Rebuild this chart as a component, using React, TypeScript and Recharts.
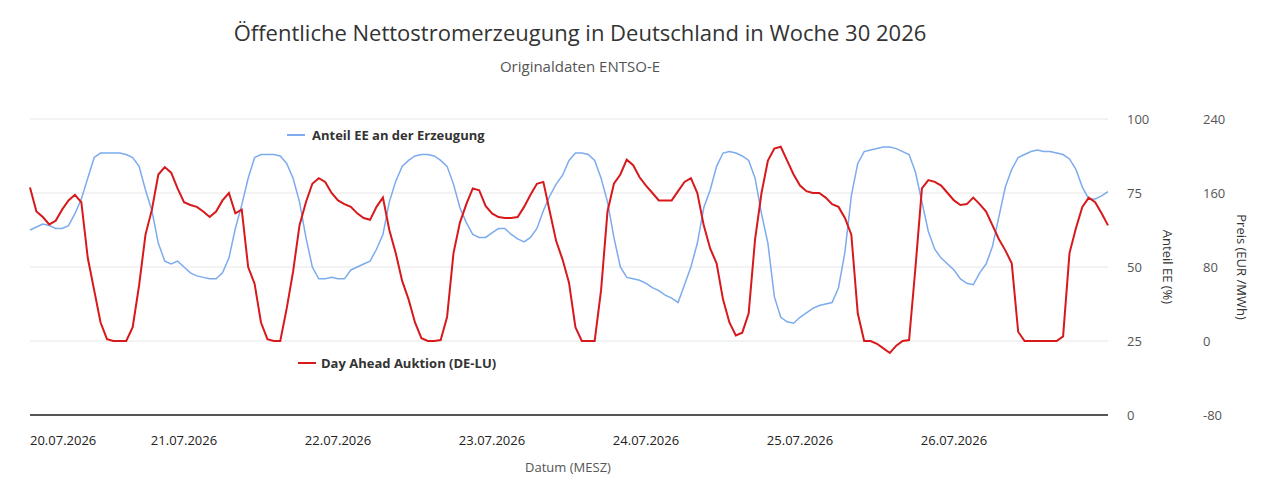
import React from 'react';
import { LineChart, Line, XAxis, YAxis, CartesianGrid } from 'recharts';

// hourly values, 20.07.2026 00:00 .. 27.07.2026 00:00
const anteilEE: number[] = [
  62.5, 63.5, 64.5, 64, 63, 63, 64, 68, 73, 80, 87, 88.5, 88.5, 88.5, 88.5, 88, 87, 84, 76, 69, 58, 52, 51, 52,
  50, 48, 47, 46.5, 46, 46, 48, 53, 63, 71, 80, 87, 88, 88, 88, 87.5, 85, 80, 72, 60, 50, 46, 46, 46.5,
  46, 46, 49, 50, 51, 52, 56, 61, 72, 79, 84, 86, 87.5, 88, 88, 87.5, 86, 84, 78, 70, 65, 61, 60, 60,
  61.5, 63, 63, 61, 59.5, 58.5, 60, 63, 69, 74, 78, 81, 86, 88.5, 88.5, 88, 86, 80, 72, 60, 50, 46.5, 46, 45.5,
  44.5, 43, 42, 40.5, 39.5, 38, 44, 50, 58, 70, 76, 84, 88.5, 89, 88.5, 87.5, 86, 80, 68, 58, 40, 33, 31.5, 31,
  33, 34.5, 36, 37, 37.5, 38, 43, 55, 74, 85, 89, 89.5, 90, 90.5, 90.5, 90, 89, 88, 82, 72, 62, 56, 53, 51,
  49, 46, 44.5, 44, 48, 51, 57, 67, 77, 83, 87, 88, 89, 89.5, 89, 89, 88.5, 88, 86.5, 83, 77, 73, 73, 74,
  75.5,
];

const preis: number[] = [
  166, 140, 134, 126, 130, 142, 152, 158, 150, 90, 55, 20, 2, 0, 0, 0, 15, 60, 115, 142, 180, 188, 182, 165,
  150, 147, 145, 140, 134, 140, 152, 160, 138, 142, 80, 62, 20, 2, 0, 0, 35, 75, 125, 150, 170, 176, 172, 160,
  152, 148, 145, 138, 133, 131, 145, 155, 120, 95, 65, 45, 20, 3, 0, 0, 1, 26, 95, 128, 148, 165, 163, 146,
  138, 134, 133, 133, 134, 145, 158, 170, 172, 140, 108, 88, 63, 15, 0, 0, 0, 55, 140, 170, 180, 196, 190, 177,
  168, 160, 152, 152, 152, 162, 172, 176, 160, 125, 100, 84, 45, 20, 6, 9, 30, 110, 160, 195, 208, 210, 195, 180,
  168, 162, 160, 160, 155, 148, 145, 133, 115, 30, 0, 0, -3, -8, -13, -5, 0, 1, 80, 165, 174, 172, 168, 160,
  152, 147, 148, 155, 148, 140, 125, 110, 98, 84, 10, 0, 0, 0, 0, 0, 0, 5, 95, 122, 145, 155, 150, 138,
  125,
];

const dayLabels = ['20.07.2026', '21.07.2026', '22.07.2026', '23.07.2026', '24.07.2026', '25.07.2026', '26.07.2026'];
const dayTicks = [0, 24, 48, 72, 96, 120, 144];
const eeTicks = [0, 25, 50, 75, 100];
const preisTicks = [-80, 0, 80, 160, 240];

const data = anteilEE.map((ee, i) => ({ h: i, ee, preis: preis[i] }));

const font = '"Open Sans", sans-serif';

const DayTick = (props: any) => {
  const { x, y, payload, index } = props;
  return (
    <text x={x} y={y} dy={22} textAnchor={index === 0 ? 'start' : 'middle'} fill="#222" fontSize={13} fontFamily={font}>
      {dayLabels[dayTicks.indexOf(payload.value)]}
    </text>
  );
};

export default function App() {
  document.body.style.margin = '0';
  return (
    <div style={{ position: 'relative', width: 1279, height: 490, background: '#fff', fontFamily: font }}>
      <div style={{ position: 'absolute', top: 17, width: 1160, textAlign: 'center', fontSize: 22, color: '#333' }}>
        Öffentliche Nettostromerzeugung in Deutschland in Woche 30 2026
      </div>
      <div style={{ position: 'absolute', top: 56, width: 1160, textAlign: 'center', fontSize: 15, color: '#555' }}>
        Originaldaten ENTSO-E
      </div>
      <LineChart width={1279} height={490} data={data} margin={{ top: 119, right: 0, bottom: 45, left: 30 }}>
        <CartesianGrid vertical={false} stroke="#e6e6e6" yAxisId="ee" />
        <XAxis
          dataKey="h"
          type="number"
          domain={[0, 168]}
          ticks={dayTicks}
          tick={<DayTick />}
          tickLine={false}
          axisLine={{ stroke: '#555', strokeWidth: 2 }}
          interval={0}
          height={30}
        />
        <YAxis
          yAxisId="ee"
          orientation="right"
          domain={[0, 100]}
          ticks={eeTicks}
          width={82}
          axisLine={false}
          tickLine={false}
          tickSize={0}
          tickMargin={19}
          tick={{ fill: '#555', fontSize: 13, fontFamily: font }}
        />
        <YAxis
          yAxisId="preis"
          orientation="right"
          domain={[-80, 240]}
          ticks={preisTicks}
          width={89}
          axisLine={false}
          tickLine={false}
          tickSize={0}
          tickMargin={13}
          tick={{ fill: '#555', fontSize: 13, fontFamily: font }}
        />
        <Line yAxisId="ee" dataKey="ee" stroke="#7cabee" strokeWidth={1.5} dot={false} type="linear" isAnimationActive={false} />
        <Line yAxisId="preis" dataKey="preis" stroke="#d7191c" strokeWidth={2} dot={false} type="linear" isAnimationActive={false} />
      </LineChart>
      <div style={{ position: 'absolute', left: 287, top: 126, display: 'flex', alignItems: 'center', fontSize: 13, fontWeight: 700, color: '#333' }}>
        <span style={{ display: 'inline-block', width: 18, height: 2, background: '#7cabee', marginRight: 7 }} />
        Anteil EE an der Erzeugung
      </div>
      <div style={{ position: 'absolute', left: 298, top: 354, display: 'flex', alignItems: 'center', fontSize: 13, fontWeight: 700, color: '#333' }}>
        <span style={{ display: 'inline-block', width: 18, height: 2, background: '#d7191c', marginRight: 5 }} />
        Day Ahead Auktion (DE-LU)
      </div>
      <div style={{ position: 'absolute', left: 1168, top: 267, transform: 'translate(-50%,-50%) rotate(90deg)', whiteSpace: 'nowrap', fontSize: 13, color: '#333' }}>
        Anteil EE (%)
      </div>
      <div style={{ position: 'absolute', left: 1242, top: 267, transform: 'translate(-50%,-50%) rotate(90deg)', whiteSpace: 'nowrap', fontSize: 13, color: '#333' }}>
        Preis (EUR /MWh)
      </div>
      <div style={{ position: 'absolute', top: 458, left: 0, width: 1136, textAlign: 'center', fontSize: 13, color: '#555' }}>
        Datum (MESZ)
      </div>
    </div>
  );
}
